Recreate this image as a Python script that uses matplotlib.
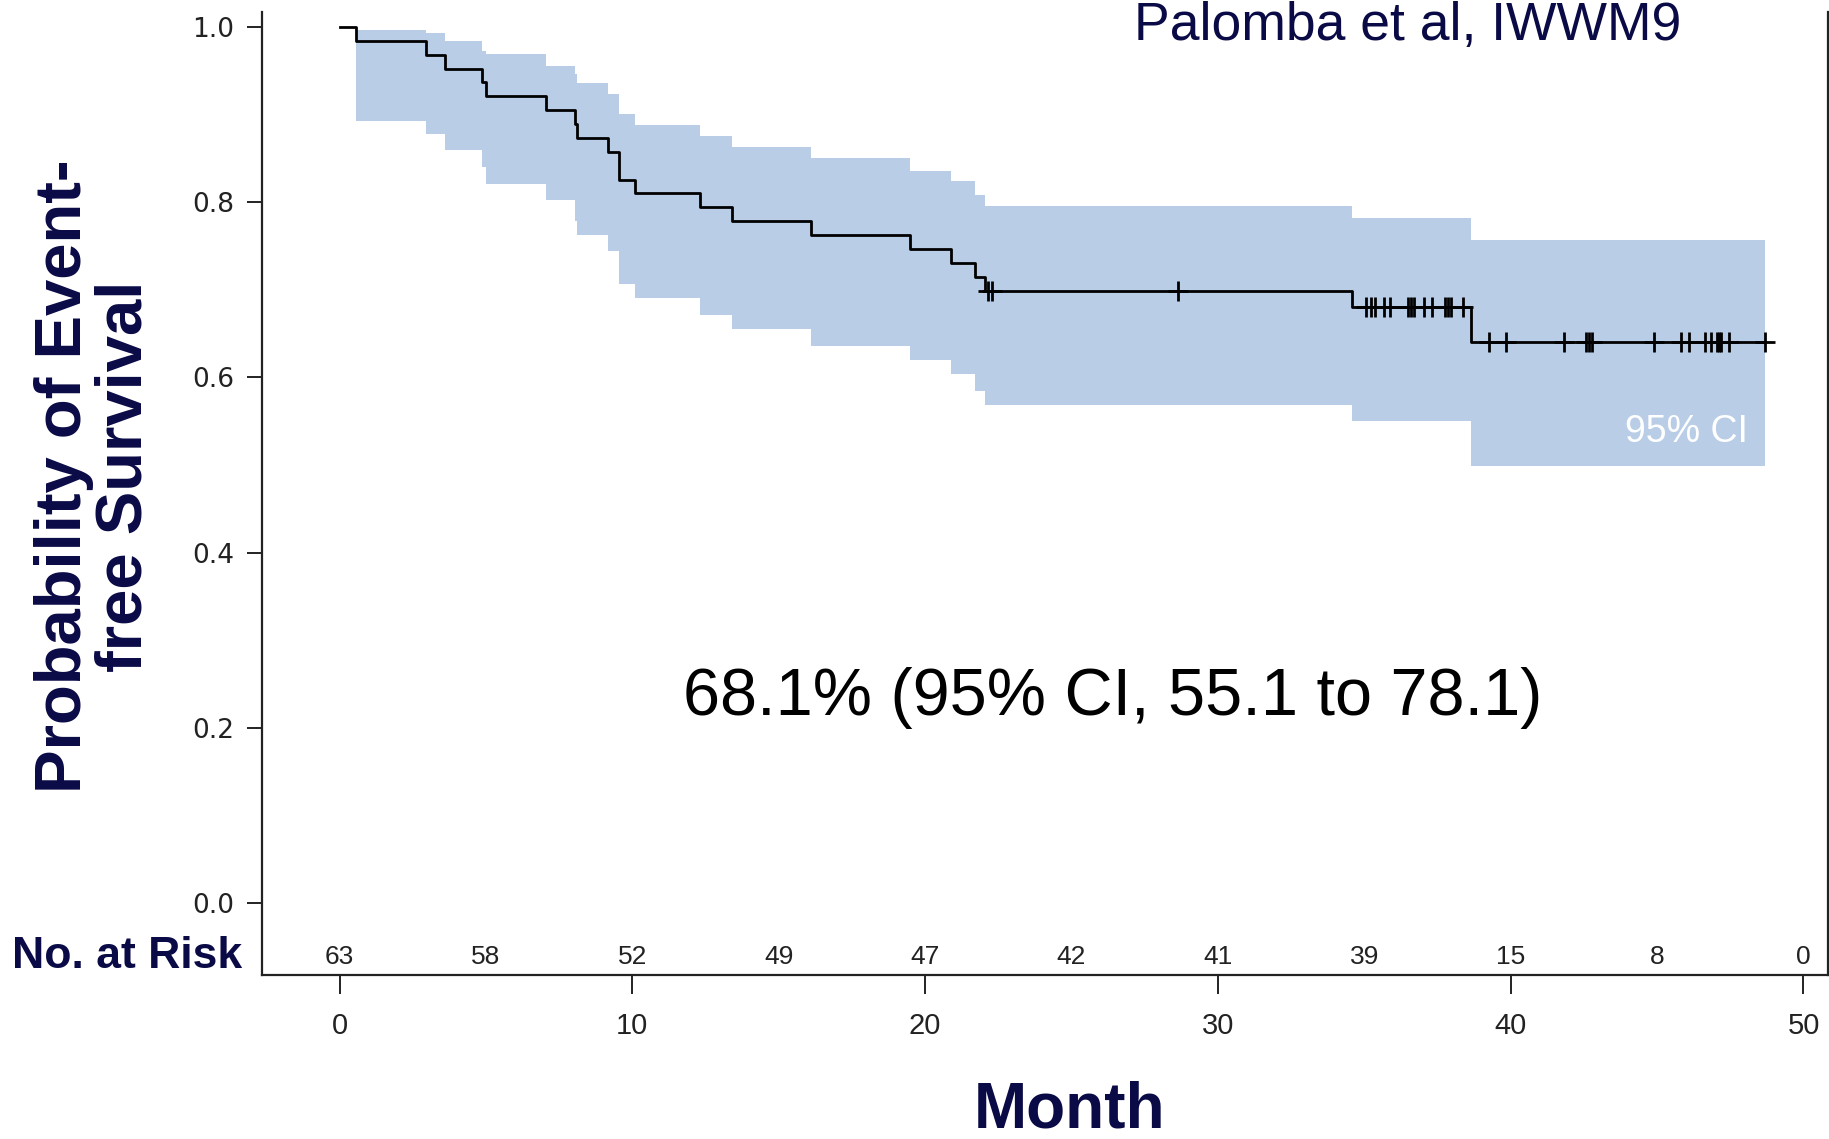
import numpy as np
import matplotlib
matplotlib.use("Agg")
import matplotlib.pyplot as plt

# Kaplan-Meier steps (event times, month)
event_times = [0.56, 2.94, 3.61, 4.88, 5.0, 7.06, 8.03, 8.1, 9.16, 9.56, 10.1,
               12.3, 13.4, 16.1, 19.5, 20.9, 21.7, 22.05, 34.57, 38.66]
surv = [0.984, 0.968, 0.952, 0.937, 0.921, 0.905, 0.889, 0.873, 0.857, 0.825,
        0.810, 0.794, 0.778, 0.762, 0.746, 0.730, 0.714, 0.698, 0.680, 0.640]
ci_upper = [0.996, 0.993, 0.984, 0.973, 0.969, 0.955, 0.946, 0.936, 0.923, 0.901,
            0.888, 0.875, 0.863, 0.850, 0.836, 0.824, 0.808, 0.795, 0.782, 0.757]
ci_lower = [0.892, 0.878, 0.859, 0.840, 0.821, 0.802, 0.779, 0.763, 0.744, 0.706,
            0.691, 0.671, 0.655, 0.636, 0.620, 0.604, 0.585, 0.568, 0.550, 0.499]
censored = [22.15, 22.3, 28.64, 35.07, 35.24, 35.38, 35.68, 35.87, 36.49, 36.59,
            36.69, 37.04, 37.32, 37.77, 37.87, 37.97, 38.38, 39.27, 39.83, 41.81,
            42.58, 42.68, 42.78, 44.89, 45.82, 46.10, 46.63, 46.83, 47.03, 47.11,
            47.19, 47.46, 48.69]
end_time = 48.69

risk_months = [0, 5, 10, 15, 20, 25, 30, 35, 40, 45, 50]
at_risk = [63, 58, 52, 49, 47, 42, 41, 39, 15, 8, 0]

navy = "#0a0a46"
band = "#b9cee6"

plt.rcParams["font.family"] = "Liberation Sans"

fig = plt.figure(figsize=(18.29, 11.39), dpi=100)
ax = fig.add_axes([0.1432, 0.1440, 0.8563, 0.8455])

# confidence band
bx = event_times + [end_time]
ax.fill_between(bx, ci_lower + [ci_lower[-1]], ci_upper + [ci_upper[-1]],
                step="post", color=band, linewidth=0)

# survival curve
sx = [0] + event_times + [end_time]
sy = [1.0] + surv + [surv[-1]]
ax.step(sx, sy, where="post", color="black", lw=2.0)

# censor marks
idx = np.searchsorted(event_times, censored, side="right") - 1
cy = np.array(surv)[idx]
ax.plot(censored, cy, ls="none", marker="+", ms=15, mew=2.0, color="black")

ax.text(48.1, 0.538, "95% CI", color="white", fontsize=27, ha="right", va="center")
ax.text(26.4, 0.234, "68.1% (95% CI, 55.1 to 78.1)", fontsize=48,
        ha="center", va="center", color="black")

for m, n in zip(risk_months, at_risk):
    ax.text(m, -0.062, str(n), ha="center", va="center", fontsize=19,
            color="#222222")

ax.set_xlim(-2.65, 50.84)
ax.set_ylim(-0.082, 1.017)
ax.set_xticks([0, 10, 20, 30, 40, 50])
ax.set_yticks([0.0, 0.2, 0.4, 0.6, 0.8, 1.0])
ax.set_yticklabels(["0.0", "0.2", "0.4", "0.6", "0.8", "1.0"])
for lab in ax.get_yticklabels():
    lab.set_family("DejaVu Sans")
    lab.set_fontsize(19)
for lab in ax.get_xticklabels():
    lab.set_fontsize(21)
ax.tick_params(axis="x", length=14, width=1.4, pad=13, colors="#222222")
ax.tick_params(axis="y", length=11, width=1.4, pad=9, colors="#222222")
ax.spines["top"].set_visible(False)
for s in ["left", "bottom", "right"]:
    ax.spines[s].set_linewidth(1.6)
    ax.spines[s].set_color("#222222")

fig.text(1408 / 1829, 1 - 40 / 1139, "Palomba et al, IWWM9", color=navy,
         fontsize=38.5, ha="center", va="baseline")
fig.text(12 / 1829, 1 - 957 / 1139, "No. at Risk", color=navy, fontsize=32,
         fontweight="bold", ha="left", va="center")
fig.text(94 / 1829, 1 - 476 / 1139, "Probability of Event-\nfree Survival",
         color=navy, fontsize=47, fontweight="bold", rotation=90,
         ha="center", va="center", multialignment="center", linespacing=1.0)
fig.text(1070 / 1829, 1 - 1110 / 1139, "Month", color=navy, fontsize=46,
         fontweight="bold", ha="center", va="center")

fig.savefig("out.png", dpi=100)
